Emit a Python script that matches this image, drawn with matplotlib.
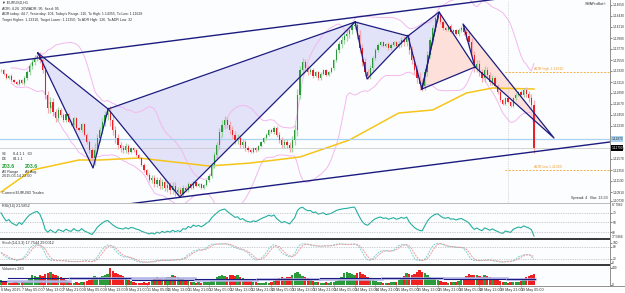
import numpy as np
import pandas as pd
import matplotlib
matplotlib.use("Agg")
import matplotlib.pyplot as plt
from matplotlib.lines import Line2D
from matplotlib.patches import Polygon
import matplotlib.transforms as mtransforms

plt.rcParams["font.family"] = ["Liberation Sans Narrow", "Liberation Sans", "DejaVu Sans"]

W, H = 625, 293

# ---------------- data ----------------
closes = [
    1.1335, 1.1327, 1.1319, 1.1323, 1.1315, 1.1311, 1.1307, 1.1315, 1.1309, 1.1319,
    1.1331, 1.1343, 1.1351, 1.1359, 1.1363, 1.1355, 1.1335, 1.1285, 1.1259, 1.1271,
    1.1251, 1.1239, 1.1255, 1.1245, 1.1235, 1.1247, 1.1231, 1.1225, 1.1239, 1.1219,
    1.1215, 1.1227, 1.1205, 1.1191, 1.1175, 1.1159, 1.1175, 1.1199, 1.1215, 1.1231,
    1.1245, 1.1251, 1.1235, 1.1215, 1.1199, 1.1185, 1.1179, 1.1175, 1.1183, 1.1171,
    1.1179, 1.1175, 1.1165, 1.1159, 1.1145, 1.1135, 1.1125, 1.1115, 1.1119, 1.1107,
    1.1115, 1.1103, 1.1111, 1.1099, 1.1105, 1.1095, 1.1103, 1.1091, 1.1095, 1.1087,
    1.1099, 1.1095, 1.1107, 1.1099, 1.1111, 1.1103, 1.1107, 1.1099, 1.1105, 1.1115,
    1.1123, 1.1145, 1.1165, 1.1185, 1.1211, 1.1225, 1.1235, 1.1225, 1.1215, 1.1205,
    1.1195, 1.1199, 1.1185, 1.1191, 1.1179, 1.1175, 1.1171, 1.1179, 1.1175, 1.1183,
    1.1191, 1.1199, 1.1205, 1.1215, 1.1211, 1.1219, 1.1205, 1.1195, 1.1185, 1.1191,
    1.1185, 1.1179, 1.1195, 1.1215, 1.1285, 1.1335, 1.1351, 1.1339, 1.1331, 1.1335,
    1.1323, 1.1331, 1.1319, 1.1327, 1.1335, 1.1325, 1.1331, 1.1339, 1.1355, 1.1375,
    1.1387, 1.1395, 1.1403, 1.1407, 1.1415, 1.1423, 1.1425, 1.1405, 1.1379, 1.1351,
    1.1331, 1.1323, 1.1339, 1.1359, 1.1375, 1.1385, 1.1391, 1.1383, 1.1387, 1.1379,
    1.1385, 1.1391, 1.1383, 1.1387, 1.1395, 1.1391, 1.1399, 1.1375, 1.1355, 1.1335,
    1.1319, 1.1307, 1.1303, 1.1331, 1.1365, 1.1395, 1.1419, 1.1439, 1.1445, 1.1431,
    1.1419, 1.1415, 1.1423, 1.1411, 1.1415, 1.1407, 1.1415, 1.1419, 1.1411, 1.1403,
    1.1391, 1.1365, 1.1339, 1.1347, 1.1331, 1.1319, 1.1335, 1.1325, 1.1311, 1.1319,
    1.1303, 1.1291, 1.1275, 1.1267, 1.1279, 1.1271, 1.1263, 1.1279, 1.1285, 1.1291,
    1.1285, 1.1295, 1.1287, 1.1279, 1.1265, 1.1179,
]

wick_pips = [
    3, 3, 2,
    2, 3, 2, 3, 2, 3, 4, 4, 6, 7, 6, 6, 7, 6, 8, 9, 10, 8, 7, 6, 5, 4, 3, 3,
    2, 2, 3, 2, 3, 3, 4, 5, 6, 14, 8, 7, 8, 9, 10, 12, 10, 9, 8, 7, 6, 5, 4, 3,
    3, 2, 2, 3, 3, 2, 4, 5, 6, 7, 6, 6, 7, 8, 7, 9, 8, 7, 6, 5, 4, 4, 3, 3,
    2, 3, 3, 3, 3, 4, 5, 6, 7, 8, 10, 8, 7, 8, 9, 8, 8, 7, 6, 5, 4, 3, 3, 3,
    2, 3, 2, 3, 3, 3, 4, 5, 6, 7, 6, 7, 7, 8, 10, 12, 9, 8, 7, 6, 5, 4, 3, 3,
    3, 2, 3, 3, 3, 3, 4, 6, 8, 9, 10, 8, 8, 7, 9, 10, 9, 8, 7, 6, 5, 4, 3, 3,
    2, 2, 3, 3, 3, 3, 5, 6, 8, 9, 8, 8, 9, 10, 12, 10, 9, 8, 7, 6, 5, 4, 4, 3,
    3, 2, 3, 3, 3, 4, 5, 6, 8, 9, 8, 8, 9, 8, 7, 8, 7, 6, 6, 5, 4, 4, 3, 3,
    2, 3, 3, 3, 3, 4, 5, 6, 7, 8, 10,
]

volumes = [
    120, 90, 70,
    60, 55, 70, 80, 65, 75, 90, 110, 180, 260, 240, 220, 260, 230, 280, 310, 340, 290, 260, 240, 200, 150, 120, 90,
    60, 50, 70, 65, 80, 70, 95, 130, 160, 240, 210, 200, 230, 260, 290, 450, 360, 310, 280, 250, 230, 180, 140, 100,
    70, 60, 50, 65, 70, 60, 85, 120, 150, 200, 180, 170, 190, 220, 210, 260, 240, 200, 180, 150, 130, 110, 90, 80,
    60, 70, 65, 80, 75, 90, 120, 150, 200, 230, 260, 240, 220, 250, 270, 240, 260, 220, 180, 160, 130, 100, 80, 70,
    50, 60, 55, 70, 65, 80, 100, 140, 180, 210, 190, 200, 220, 260, 300, 340, 280, 240, 200, 170, 140, 110, 90, 70,
    60, 55, 70, 65, 80, 75, 110, 150, 220, 320, 340, 300, 280, 260, 300, 330, 290, 250, 220, 180, 140, 110, 90, 70,
    60, 55, 65, 70, 85, 80, 120, 160, 240, 300, 280, 260, 290, 330, 380, 350, 300, 260, 220, 180, 150, 120, 100, 90,
    80, 60, 70, 75, 80, 95, 130, 170, 230, 280, 260, 250, 270, 240, 220, 260, 230, 200, 170, 150, 120, 100, 90, 80,
    60, 70, 80, 75, 90, 110, 150, 200, 230, 260, 280,
]

date_labels = [
    "6 May 2015", "7 May 05:00", "7 May 13:00", "7 May 21:00", "8 May 05:00", "8 May 13:00",
    "8 May 21:00", "11 May 05:00", "11 May 13:00", "11 May 21:00", "12 May 05:00", "12 May 13:00",
    "12 May 21:00", "13 May 05:00", "13 May 13:00", "13 May 21:00", "14 May 05:00", "14 May 13:00",
    "14 May 21:00", "15 May 05:00", "15 May 13:00", "15 May 21:00", "18 May 05:00", "18 May 13:00",
    "18 May 21:00", "19 May 05:00",
]

price_ticks = [1.14650, 1.14430, 1.14210, 1.13990, 1.13770, 1.13550, 1.13330, 1.13110, 1.12890,
               1.12670, 1.12450, 1.12230, 1.11790, 1.11570, 1.11350, 1.11130, 1.10910, 1.10730]

ma_bars = [0, 12, 30, 38, 53, 80, 96, 115, 134, 153, 166, 179, 189, 205]
ma_vals = [1.1091, 1.1135, 1.1155, 1.1155, 1.1159, 1.1143, 1.1149, 1.1161, 1.1195, 1.1249,
           1.1255, 1.1289, 1.1299, 1.1297]

# harmonic pivots: X, A, B, C, D, E, F, G, H, I, K, J
pivot_names = ["X", "A", "B", "C", "D", "E", "F", "G", "H", "I", "K", "J"]
pivot_bars = [14.2, 35.4, 41.2, 68.8, 136.2, 140.8, 156.5, 161.9, 168.5, 182.3, 177.7, 212.7]
pivot_prices = [1.1369, 1.1139, 1.1257, 1.1081, 1.1431, 1.1317, 1.1403, 1.1297, 1.1451, 1.1341, 1.1427, 1.1199]
lav_triangles = [("X", "A", "B"), ("B", "C", "D"), ("D", "E", "F"), ("F", "G", "H")]
pink_triangles = [("G", "H", "I"), ("I", "K", "J")]

channel_top_bars = [-0.4, 234.2]
channel_top_prices = [1.1349, 1.1506]
channel_bot_bars = [-0.4, 234.2]
channel_bot_prices = [1.1034, 1.1191]

blue_line_price = 1.1197
adr_high = 1.1331
adr_low = 1.1135
sep_bar = 195
rsi_seed_gain_pips = 3.0
rsi_seed_loss_pips = 1.3

# ---------------- derived ----------------
n = len(closes)
c = np.array(closes)
o = np.array([closes[0]] + closes[:-1])
wk = np.array(wick_pips) * 0.0001
hi = np.maximum(o, c) + wk
lo = np.minimum(o, c) - wk
idx = np.arange(n)
vol = np.array(volumes, dtype=float)

s = pd.Series(c)
delta = np.diff(c, prepend=c[0])
ag, al = rsi_seed_gain_pips * 1e-4, rsi_seed_loss_pips * 1e-4
rsi_vals = []
for d in delta:
    ag = (ag * 13 + max(d, 0)) / 14
    al = (al * 13 + max(-d, 0)) / 14
    rsi_vals.append(100 - 100 / (1 + ag / al) if al > 0 else 100)
rsi = pd.Series(rsi_vals)

hh = pd.Series(hi).rolling(14, min_periods=1).max()
ll = pd.Series(lo).rolling(14, min_periods=1).min()
raw = 100 * (s - ll) / (hh - ll)
stk = raw.rolling(3, min_periods=1).mean()
std = stk.rolling(3, min_periods=1).mean()

bb_mid = s.rolling(20, min_periods=5).mean()
bb_sd = s.rolling(20, min_periods=5).std()
bb_up = bb_mid + 2 * bb_sd
bb_lo = bb_mid - 2 * bb_sd

# ---------------- figure ----------------
fig = plt.figure(figsize=(W / 100, H / 100), dpi=100)
fig.patch.set_facecolor("white")
BG = "#fcfdff"
TXT = "#303030"
FS = 2.7
FSR = 2.3

def rect(x0, y0, x1, y1):
    return [x0 / W, 1 - y1 / H, (x1 - x0) / W, (y1 - y0) / H]

xlim = (-1 / 2.6, 609 / 2.6)

ax = fig.add_axes(rect(0, 0, 610, 203))
ax_rsi = fig.add_axes(rect(0, 203, 610, 239))
ax_st = fig.add_axes(rect(0, 239, 610, 265))
ax_v = fig.add_axes(rect(0, 265, 610, 285))

for a in (ax, ax_rsi, ax_st, ax_v):
    a.set_facecolor(BG)
    a.set_xlim(*xlim)
    for sp in a.spines.values():
        sp.set_visible(False)
    a.yaxis.tick_right()
    a.tick_params(axis="y", labelsize=FSR, length=1.2, pad=0.5, colors="#505050", labelcolor=TXT, width=0.5)
    a.tick_params(axis="x", bottom=False, labelbottom=False)

# ---- main ----
ax.set_ylim(1.1475 - 0.0002 * 203, 1.1475)
ax.set_yticks(price_ticks)
ax.set_yticklabels([f"{p:.5f}" for p in price_ticks])

pv = dict(zip(pivot_names, zip(pivot_bars, pivot_prices)))
for tri in lav_triangles:
    ax.add_patch(Polygon([pv[k] for k in tri], closed=True, fc="#e2e2f8", ec="none", zorder=1))
for tri in pink_triangles:
    ax.add_patch(Polygon([pv[k] for k in tri], closed=True, fc="#fde0da", ec="none", zorder=1))

ax.plot(idx, bb_up, color="#f4b8ee", lw=0.7, zorder=2)
ax.plot(idx, bb_lo, color="#f4b8ee", lw=0.7, zorder=2)
ax.plot(ma_bars, ma_vals, color="#f5c518", lw=1.1, zorder=2)

ax.axhline(blue_line_price, color="#a8d4f2", lw=0.9, zorder=2)
ax.axhline(closes[-1], color="#cccccc", lw=0.6, zorder=2)
ax.axvline(sep_bar, color="#bbbbbb", lw=0.5, ls=(0, (1, 1.5)), zorder=2)

colors_body = np.where(c >= o, "#2a9a3a", "#e8202a")
colors_wick = np.where(c >= o, "#9fd6a5", "#f3a9ad")
ax.vlines(idx, lo, hi, colors=colors_wick, lw=0.9, zorder=3)
body_h = np.maximum(np.abs(c - o), 0.00008)
ax.bar(idx, body_h, bottom=np.minimum(o, c), width=0.5, color=colors_body, lw=0, zorder=4)

for tri in lav_triangles + pink_triangles:
    pts = [pv[k] for k in tri] + [pv[tri[0]]]
    xs, ys = zip(*pts)
    ax.plot(xs, ys, color="#1c1c80", lw=0.9, zorder=5)
ax.plot(channel_top_bars, channel_top_prices, color="#1c1c80", lw=1.0, zorder=5)
ax.plot(channel_bot_bars, channel_bot_prices, color="#1c1c80", lw=1.0, zorder=5)

ax.plot([194, 234], [adr_high, adr_high], color="#f5b041", lw=0.7, ls=(0, (2, 1.5)), zorder=5)
ax.plot([194, 234], [adr_low, adr_low], color="#f5b041", lw=0.7, ls=(0, (2, 1.5)), zorder=5)
ax.text(205, adr_high + 0.0002, f"ADR high {adr_high:.5f}", fontsize=2.6, color="#f0a030", va="bottom", zorder=6)
ax.text(205, adr_low + 0.0002, f"ADR low {adr_low:.5f}", fontsize=2.6, color="#f0a030", va="bottom", zorder=6)

trans = mtransforms.blended_transform_factory(ax.transAxes, ax.transData)
ax.text(1.002, blue_line_price, f"{blue_line_price:.5f}", transform=trans, fontsize=FSR, color=TXT,
        va="center", ha="left", bbox=dict(fc="#a8d4f2", ec="none", pad=0.4), clip_on=False, zorder=7)
ax.text(1.002, closes[-1], f"{closes[-1]:.5f}", transform=trans, fontsize=FSR, color="white",
        va="center", ha="left", bbox=dict(fc="black", ec="none", pad=0.4), clip_on=False, zorder=7)

# ---- RSI ----
ax_rsi.set_ylim(15.5, 90.1)
ax_rsi.plot(idx, rsi, color="#22b09e", lw=0.8)
for lvl in (70, 50, 30):
    ax_rsi.axhline(lvl, color="#a0a0a0", lw=0.5, ls=(0, (1, 1.5)))
ax_rsi.set_yticks([70, 50, 30])
ax_rsi.set_yticklabels(["70", "50", "30"])

# ---- Stochastic ----
ax_st.set_ylim(-12, 118)
ax_st.plot(idx, stk, color="#7fd3d6", lw=0.7, ls=(0, (2, 1)))
ax_st.plot(idx, std, color="#f29a9a", lw=0.7, ls=(0, (2, 1)))
for lvl in (80, 20):
    ax_st.axhline(lvl, color="#a0a0a0", lw=0.5, ls=(0, (1, 1.5)))
ax_st.set_yticks([100, 80, 20, 0])
ax_st.set_yticklabels(["100", "80", "20", "0"])

# ---- Volume ----
ax_v.set_ylim(0, 520)
vcol = np.where(c >= o, "#2a9a3a", "#ee2020")
ax_v.bar(idx, vol, width=0.85, color=vcol, lw=0)
day_starts = [0, 3, 27, 51, 75, 99, 123, 147, 171, 195, 206]
prev = None
for a0, a1 in zip(day_starts[:-1], day_starts[1:]):
    m = vol[a0:a1].mean()
    if prev is not None:
        ax_v.plot([a0 - 0.5, a1 - 0.5], [prev, prev], color="#b4b4e6", lw=1.8)
    ax_v.plot([a0 - 0.5, a1 - 0.5], [m, m], color="#1c1c80", lw=0.8)
    prev = m
ax_v.set_yticks([449, 0])
ax_v.set_yticklabels(["449", "0"])
ax_v.tick_params(axis="x", bottom=True, labelbottom=True, labelsize=FS, length=1.5, pad=0.8,
                 colors="#505050", labelcolor=TXT, width=0.5)
ax_v.set_xticks(np.arange(0, n, 8)[:len(date_labels)])
ax_v.set_xticklabels(date_labels, ha="left")

# ---- panel borders ----
def hline(y, color, lw, x0=0, x1=610):
    fig.add_artist(Line2D([x0 / W, x1 / W], [1 - y / H, 1 - y / H], color=color, lw=lw))

hline(203, "#b0b0b0", 0.6)
hline(239, "#000000", 1.1)
hline(265, "#000000", 1.1)
hline(285.5, "#909090", 0.7, 0, 625)
fig.add_artist(Line2D([610 / W, 610 / W], [1 - 286 / H, 1], color="#909090", lw=0.7))

def ftext(x, y, s, **kw):
    kw.setdefault("fontsize", FS)
    kw.setdefault("color", TXT)
    kw.setdefault("va", "center")
    fig.text(x / W, 1 - y / H, s, **kw)

ftext(2, 3, "\u25bc EURUSD,H1")
ftext(2, 9, "ADR: 4.26  20WADR: 95  fixed: 95")
ftext(2, 14.5, "ADR today: 44.7, Yesterday: 104, Today's Range: 116, To High: 1.14355, To Low: 1.11628", fontsize=2.5)
ftext(2, 20, f"Target Higher: {adr_high:.5f}, Target Lower: {adr_low:.5f}, To ADR High: 126, To ADR Low: 32", fontsize=2.5)
ftext(607, 4, "SMAProBot\u00a9", ha="right")

ftext(2, 154, "SE")
ftext(13, 154, "8.4.1.1   60")
ftext(2, 159, "DE")
ftext(13, 159, "84.1.1")
ftext(2, 166, "203.6", color="#1e9e2e", fontsize=3.8, fontweight="bold")
ftext(25, 166, "203.6", color="#1e9e2e", fontsize=3.8, fontweight="bold")
ftext(2, 172, "All Range")
ftext(25, 172, "All Avg")
ftext(2, 176, "2015.05.14 22:00")
ftext(2, 193, "Current EURUSD Trades")
ftext(608, 198, "Spread: 4   Bar: 13:33", ha="right")

ftext(2, 206.5, f"RSI(14) {rsi.iloc[-1]:.4f}")
ftext(2, 243, f"Stoch(14,3,3) {stk.iloc[-1]:.4f} {std.iloc[-1]:.4f}")
ftext(2, 268.5, f"Volumes {int(vol[-1])}")
ftext(611.5, 205, "87.7062", fontsize=FSR)
ftext(611.5, 237, "17.5866", fontsize=FSR)

fig.savefig("out.png", dpi=100, facecolor="white")
